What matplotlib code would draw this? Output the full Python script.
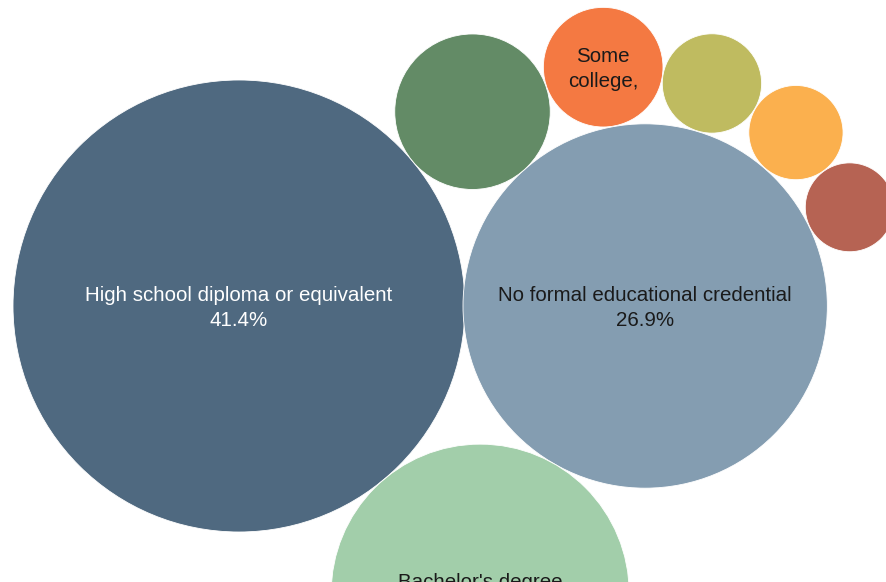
import numpy as np
import matplotlib
matplotlib.use("Agg")
import matplotlib.pyplot as plt
from matplotlib.patches import Circle

plt.rcParams['font.family'] = ['Liberation Sans', 'DejaVu Sans']

# Share of jobs by typical entry-level education (%)
categories = [
    "High school diploma or equivalent",
    "No formal educational credential",
    "Bachelor's degree",
    "Postsecondary nondegree award",
    "Some college, no degree",
    "Associate's degree",
    "Master's degree",
    "Doctoral or professional degree",
]
shares = [41.4, 26.9, 18.0, 4.9, 2.9, 2.0, 1.8, 1.6]
colors = ["#4f6980", "#849db1", "#a2ceaa", "#638b66",
          "#f47942", "#bfbb60", "#fbb04e", "#b66353"]
label_text = [
    "High school diploma or equivalent\n41.4%",
    "No formal educational credential\n26.9%",
    "Bachelor's degree\n18.0%",
    "",
    "Some\ncollege,",
    "",
    "",
    "",
]
label_colors = ["white", "#1a1a1a", "#1a1a1a", "#1a1a1a",
                "#1a1a1a", "#1a1a1a", "#1a1a1a", "#1a1a1a"]

W, H = 887, 582
fig = plt.figure(figsize=(W / 100, H / 100), dpi=100)
ax = fig.add_axes([0, 0, 1, 1])
ax.set_xlim(0, W)
ax.set_ylim(H, 0)
ax.set_aspect("equal")
ax.axis("off")

# bubble area proportional to share
scale = 226 / np.sqrt(max(shares))
radii = [scale * np.sqrt(v) for v in shares]


def tangent_to(c1, r1, c2, r2, r, side, gap=0.0):
    """Centre of a circle of radius r touching circles 1 and 2."""
    c1, c2 = np.asarray(c1, float), np.asarray(c2, float)
    d = np.linalg.norm(c2 - c1)
    u = (c2 - c1) / d
    n = np.array([-u[1], u[0]])
    a, b = r1 + r + gap, r2 + r + gap
    along = (a * a - b * b + d * d) / (2 * d)
    perp = np.sqrt(max(a * a - along * along, 0))
    return c1 + along * u + side * perp * n


centers = [None] * len(shares)
centers[0] = np.array([239.0, 306.0])
centers[1] = centers[0] + np.array([radii[0] + radii[1] - 2.0, 0.0])
centers[2] = tangent_to(centers[0], radii[0], centers[1], radii[1], radii[2], +1)
centers[3] = tangent_to(centers[0], radii[0], centers[1], radii[1], radii[3], -1)
for i in range(4, len(shares)):
    centers[i] = tangent_to(centers[i - 1], radii[i - 1], centers[1], radii[1],
                            radii[i], -1, gap=0.5)

for c, r, col in zip(centers, radii, colors):
    ax.add_patch(Circle(c, r, facecolor=col, edgecolor="white", linewidth=0.6))

for c, txt, tc in zip(centers, label_text, label_colors):
    if txt:
        ax.text(c[0], c[1] + 2, txt, ha="center", va="center", color=tc,
                fontsize=14.8, linespacing=1.38)

fig.savefig("out.png", dpi=100)
